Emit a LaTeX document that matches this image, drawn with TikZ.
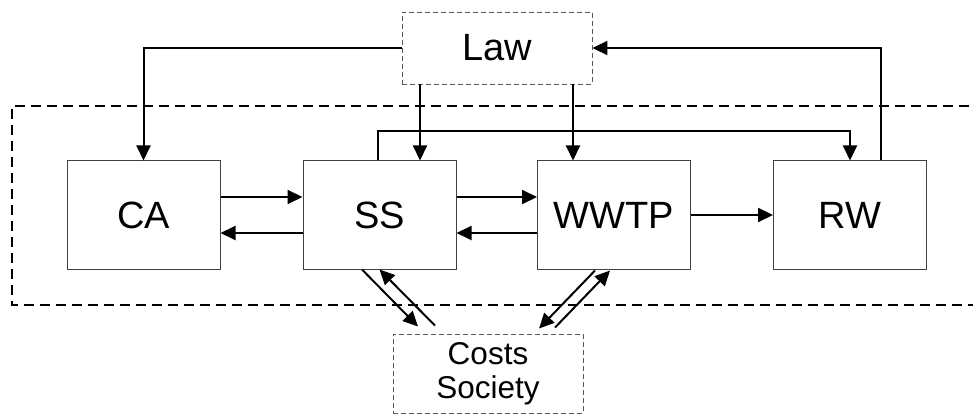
\documentclass[tikz,border=0pt]{standalone}
\usepackage{fontspec}
\setmainfont{Liberation Sans}
\usetikzlibrary{arrows.meta}
\begin{document}
\begin{tikzpicture}[x=1pt,y=-1pt,
  stage/.style={draw=black!75,line width=1pt,minimum width=153pt,minimum height=108pt,inner sep=0pt,
    font=\fontsize{38}{42}\selectfont},
  outer/.style={draw=black!65,line width=0.9pt,dash pattern=on 5pt off 3pt,inner sep=0pt},
  flow/.style={line width=2pt,-{Triangle[length=15pt,width=14pt]}},
  link/.style={line width=2pt}]
\useasboundingbox (0,0) rectangle (973,414);
% system boundary, open on the right
\draw[line width=2pt,dash pattern=on 10pt off 6pt] (985,106) -- (12,106) -- (12,305) -- (985,305);
% stages
\node[stage] (CA) at (143.5,215) {CA};
\node[stage] (SS) at (379.5,215) {SS};
\node[stage] (WWTP) at (614,215) {WWTP};
\node[stage] (RW) at (850,215) {RW};
% external influences
\node[outer,minimum width=190pt,minimum height=72pt,font=\fontsize{38}{42}\selectfont] (Law) at (497,48) {Law};
\node[outer,minimum width=190pt,minimum height=79pt,align=center,font=\fontsize{31.5}{34}\selectfont] (Costs) at (488,373.5) {Costs\\Society};
% chain
\draw[flow] ([yshift=18pt]CA.east) -- ([yshift=18pt]SS.west);
\draw[flow] ([yshift=-18pt]SS.west) -- ([yshift=-18pt]CA.east);
\draw[flow] ([yshift=18pt]SS.east) -- ([yshift=18pt]WWTP.west);
\draw[flow] ([yshift=-18pt]WWTP.west) -- ([yshift=-18pt]SS.east);
\draw[flow] (WWTP.east) -- (RW.west);
% law
\draw[flow] (Law.west) -| (CA.north);
\draw[flow] ([xshift=-77pt]Law.south) -- ([xshift=-77pt]Law.south |- SS.north);
\draw[flow] ([xshift=76pt]Law.south) -- ([xshift=76pt]Law.south |- WWTP.north);
\draw[flow] ([xshift=-1.5pt]SS.north) -- ++(0,-29) -| (RW.north);
\draw[flow] ([xshift=31pt]RW.north) |- (Law.east);
% costs and society
\draw[flow] ([xshift=-17.5pt]SS.south) -- ([xshift=-70pt,yshift=7pt]Costs.north);
\draw[flow] ([xshift=-53pt,yshift=8pt]Costs.north) -- ([xshift=0pt]SS.south);
\draw[flow] ([xshift=-19pt,yshift=-1pt]WWTP.south) -- ([xshift=51pt,yshift=5pt]Costs.north);
\draw[flow] ([xshift=67pt,yshift=6pt]Costs.north) -- ([xshift=-4pt,yshift=-1pt]WWTP.south);
\end{tikzpicture}
\end{document}
